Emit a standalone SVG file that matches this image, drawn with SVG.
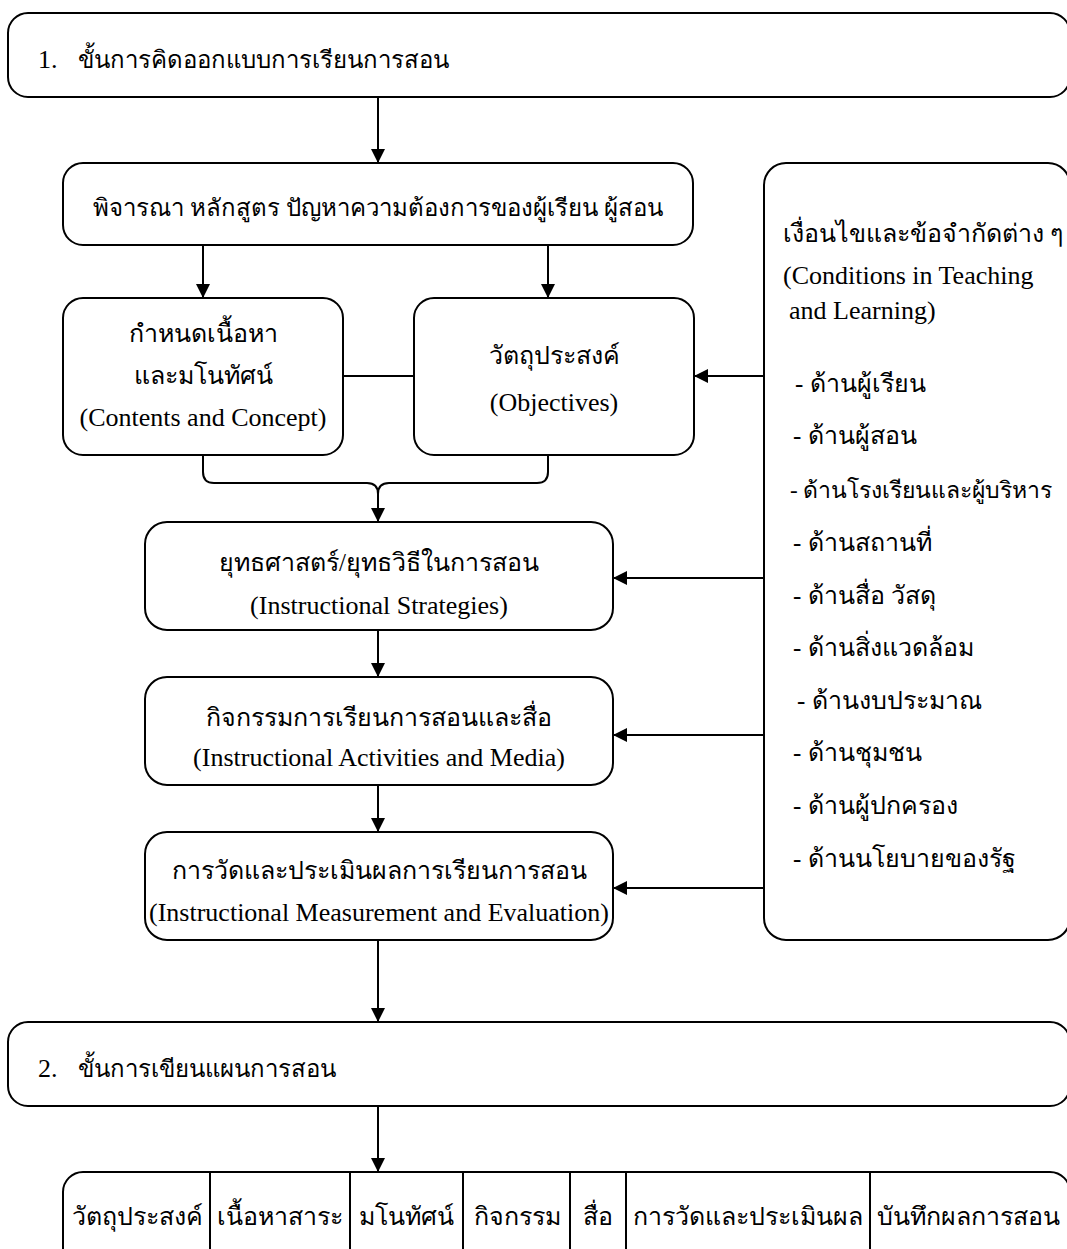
<svg xmlns="http://www.w3.org/2000/svg" width="1067" height="1249" viewBox="0 0 1067 1249">
<style>
.box{fill:#fff;stroke:#000;stroke-width:2}
.ln{fill:none;stroke:#000;stroke-width:2}
text{font-family:"Liberation Serif","Noto Sans",serif;font-size:24px;fill:#000}
.en{font-size:26px}
.th{font-size:25px}
.c{text-anchor:middle}
</style>
<defs>
<marker id="ah" markerWidth="13" markerHeight="14" viewBox="0 0 13 14" refX="14" refY="7" orient="auto" markerUnits="userSpaceOnUse">
<path d="M0,0 L14,7 L0,14 Z" fill="#000"/>
</marker>
</defs>
<rect width="1067" height="1249" fill="#fff"/>
<g id="connectors">
<line class="ln" x1="378" y1="97" x2="378" y2="163" marker-end="url(#ah)"/>
<line class="ln" x1="203" y1="245" x2="203" y2="298" marker-end="url(#ah)"/>
<line class="ln" x1="548" y1="245" x2="548" y2="298" marker-end="url(#ah)"/>
<line class="ln" x1="343" y1="376" x2="414" y2="376"/>
<line class="ln" x1="764" y1="376" x2="694" y2="376" marker-end="url(#ah)"/>
<path class="ln" d="M203,455 V472 Q203,483 214,483 H367 Q378,483 378,494 Q378,483 389,483 H537 Q548,483 548,472 V455"/>
<line class="ln" x1="378" y1="490" x2="378" y2="522" marker-end="url(#ah)"/>
<line class="ln" x1="764" y1="578" x2="613" y2="578" marker-end="url(#ah)"/>
<line class="ln" x1="378" y1="630" x2="378" y2="677" marker-end="url(#ah)"/>
<line class="ln" x1="764" y1="735" x2="613" y2="735" marker-end="url(#ah)"/>
<line class="ln" x1="378" y1="785" x2="378" y2="832" marker-end="url(#ah)"/>
<line class="ln" x1="764" y1="888" x2="613" y2="888" marker-end="url(#ah)"/>
<line class="ln" x1="378" y1="940" x2="378" y2="1022" marker-end="url(#ah)"/>
<line class="ln" x1="378" y1="1106" x2="378" y2="1172" marker-end="url(#ah)"/>
</g>
<g id="step1">
<rect class="box" x="8" y="13" width="1062" height="84" rx="20"/>
<text class="en" x="38" y="68">1.</text>
<text x="78" y="68">ขั้นการคิดออกแบบการเรียนการสอน</text>
</g>
<g id="consider">
<rect class="box" x="63" y="163" width="630" height="82" rx="20"/>
<text class="c" x="378" y="216">พิจารณา หลักสูตร ปัญหาความต้องการของผู้เรียน ผู้สอน</text>
</g>
<g id="content">
<rect class="box" x="63" y="298" width="280" height="157" rx="20"/>
<text class="c th" x="203" y="342">กำหนดเนื้อหา</text>
<text class="c th" x="203" y="384">และมโนทัศน์</text>
<text class="c en" x="203" y="426">(Contents and Concept)</text>
</g>
<g id="objectives">
<rect class="box" x="414" y="298" width="280" height="157" rx="20"/>
<text class="c th" x="554" y="364">วัตถุประสงค์</text>
<text class="c en" x="554" y="411">(Objectives)</text>
</g>
<g id="conditions">
<rect class="box" x="764" y="163" width="306" height="777" rx="22"/>
<text class="th" x="783" y="242">เงื่อนไขและข้อจำกัดต่าง ๆ</text>
<text class="en" x="783" y="284">(Conditions in Teaching</text>
<text class="en" x="789" y="319">and Learning)</text>
<text class="th" x="795" y="392">- ด้านผู้เรียน</text>
<text class="th" x="793" y="444">- ด้านผู้สอน</text>
<text x="790" y="498" style="font-size:23px">- ด้านโรงเรียนและผู้บริหาร</text>
<text class="th" x="793" y="551">- ด้านสถานที่</text>
<text class="th" x="793" y="604">- ด้านสื่อ วัสดุ</text>
<text class="th" x="793" y="656">- ด้านสิ่งแวดล้อม</text>
<text class="th" x="797" y="709">- ด้านงบประมาณ</text>
<text class="th" x="793" y="761">- ด้านชุมชน</text>
<text class="th" x="793" y="814">- ด้านผู้ปกครอง</text>
<text class="th" x="793" y="867">- ด้านนโยบายของรัฐ</text>
</g>
<g id="strategies">
<rect class="box" x="145" y="522" width="468" height="108" rx="22"/>
<text class="c th" x="379" y="571">ยุทธศาสตร์/ยุทธวิธีในการสอน</text>
<text class="c en" x="379" y="614">(Instructional Strategies)</text>
</g>
<g id="activities">
<rect class="box" x="145" y="677" width="468" height="108" rx="22"/>
<text class="c th" x="379" y="726">กิจกรรมการเรียนการสอนและสื่อ</text>
<text class="c en" x="379" y="766">(Instructional Activities and Media)</text>
</g>
<g id="evaluation">
<rect class="box" x="145" y="832" width="468" height="108" rx="22"/>
<text class="c th" x="379" y="879">การวัดและประเมินผลการเรียนการสอน</text>
<text class="c en" x="379" y="921">(Instructional Measurement and Evaluation)</text>
</g>
<g id="step2">
<rect class="box" x="8" y="1022" width="1062" height="84" rx="20"/>
<text class="en" x="38" y="1077">2.</text>
<text x="78" y="1077">ขั้นการเขียนแผนการสอน</text>
</g>
<g id="plan">
<rect class="box" x="63" y="1172" width="1007" height="120" rx="20"/>
<line class="ln" x1="210" y1="1172" x2="210" y2="1249"/>
<line class="ln" x1="350" y1="1172" x2="350" y2="1249"/>
<line class="ln" x1="463" y1="1172" x2="463" y2="1249"/>
<line class="ln" x1="570" y1="1172" x2="570" y2="1249"/>
<line class="ln" x1="626" y1="1172" x2="626" y2="1249"/>
<line class="ln" x1="870" y1="1172" x2="870" y2="1249"/>
<text class="c th" x="137" y="1225">วัตถุประสงค์</text>
<text class="c th" x="280" y="1225">เนื้อหาสาระ</text>
<text class="c th" x="406" y="1225">มโนทัศน์</text>
<text class="c th" x="517" y="1225">กิจกรรม</text>
<text class="c th" x="598" y="1225">สื่อ</text>
<text class="c th" x="748" y="1225">การวัดและประเมินผล</text>
<text class="c th" x="968" y="1225">บันทึกผลการสอน</text>
</g>
</svg>
